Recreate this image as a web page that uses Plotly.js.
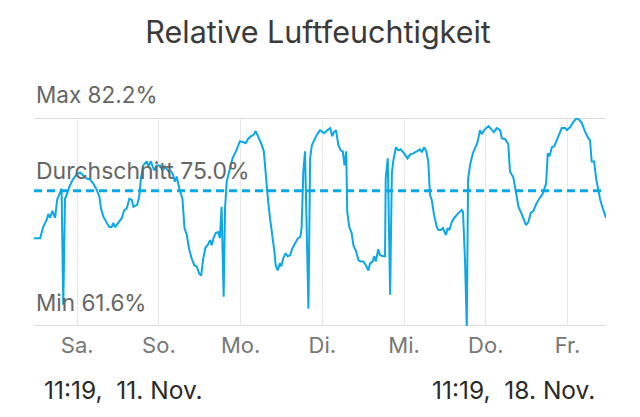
<!DOCTYPE html>
<html>
<head>
<meta charset="utf-8">
<script src="https://cdn.plot.ly/plotly-3.0.1.min.js"></script>
<style>html,body{margin:0;padding:0;background:#fff;}#chart{width:640px;height:417px;}</style>
</head>
<body>
<div id="chart"></div>
<script>
// Hours since start (11:19, 11. Nov.) and relative humidity (%)
const startTime = "2022-11-11 11:19";
const hours = [0.0,1.8,2.7,3.7,4.2,4.7,5.4,6.2,6.8,7.6,8.1,8.6,9.1,9.6,10.4,11.4,12.5,13.5,14.5,15.5,16.5,17.4,18.4,19.2,19.7,20.4,21.4,22.1,22.8,23.3,23.8,24.8,25.8,26.5,27.2,28.0,28.7,29.2,30.3,30.9,31.4,32.1,33.1,33.6,34.3,35.3,36.0,37.0,37.8,38.5,39.5,40.0,40.7,41.4,41.9,42.7,43.6,44.2,44.9,45.5,46.3,47.1,47.8,48.5,49.1,49.7,50.4,51.0,51.7,52.2,52.7,53.4,54.1,54.6,55.1,55.7,56.1,56.6,57.3,58.3,59.3,60.5,61.5,62.2,62.8,63.7,64.4,65.1,65.9,66.7,67.5,68.1,68.7,69.3,70.0,70.6,71.0,71.6,72.2,72.6,73.2,73.9,74.5,75.2,75.9,76.7,77.5,78.2,78.6,79.1,79.6,80.6,81.1,81.6,82.3,83.0,84.0,85.2,86.2,87.0,87.6,88.1,88.7,89.4,90.1,90.7,91.2,91.7,92.0,92.6,93.3,93.8,94.6,95.3,96.0,96.7,97.5,98.2,98.7,99.5,99.9,100.4,101.1,101.6,102.6,103.1,103.3,103.9,104.6,105.1,105.5,106.3,107.0,107.7,108.7,109.7,110.5,111.4,112.4,113.4,113.9,114.6,115.2,115.8,116.3,116.8,117.5,118.3,118.8,119.5,120.1,120.5,121.0,121.5,122.0,122.7,123.4,124.2,124.9,125.6,126.0,126.6,127.1,127.5,128.1,128.9,129.5,130.2,131.0,131.5,132.2,133.5,134.5,135.1,135.9,136.9,137.4,138.4,139.3,139.8,140.8,141.6,142.3,143.1,143.9,144.5,145.2,145.9,146.7,147.5,148.4,149.4,150.4,150.9,151.4,152.1,152.8,153.5,154.3,155.0,156.0,156.5,157.5,158.4,159.4,160.2,160.9,161.9,162.8,163.3,163.8,164.5,165.1,165.8,166.3,167.1,168.0];
const humidity = [70.3,70.3,71.4,72.1,72.7,72.3,73.0,72.3,74.1,74.7,75.2,63.7,74.2,74.6,75.4,76.1,76.6,76.8,76.5,76.2,76.1,75.7,75.1,74.4,73.2,72.4,71.8,71.4,71.4,71.8,71.4,71.9,72.3,73.1,73.2,74.2,74.1,73.4,73.6,74.4,76.2,77.5,77.9,77.4,77.9,77.0,77.5,77.5,77.0,77.4,76.9,77.0,76.7,75.9,76.4,75.2,74.2,71.3,70.6,69.3,68.3,67.6,67.5,66.8,66.6,68.3,69.4,69.6,70.1,69.6,70.3,70.8,70.9,70.3,73.4,64.5,73.2,75.9,76.9,78.2,78.9,79.9,79.8,79.7,80.1,80.4,80.5,80.9,80.3,79.7,78.9,76.2,74.2,72.3,70.6,69.0,67.6,67.1,67.8,67.5,68.3,68.8,68.5,68.6,69.3,69.8,70.3,70.4,71.3,76.9,78.9,63.3,78.2,79.5,80.0,80.5,81.0,80.7,81.0,81.2,80.4,80.8,81.0,79.5,79.0,78.9,77.5,78.9,72.9,71.4,70.8,69.6,69.0,68.1,68.0,68.0,67.6,67.1,67.8,68.0,68.5,68.0,69.2,68.6,68.5,68.5,76.2,78.2,64.7,76.7,77.9,79.3,79.0,79.1,78.7,78.2,78.6,78.7,78.9,79.1,78.8,79.3,78.9,77.9,74.6,74.1,72.6,71.4,71.1,71.1,71.3,70.9,70.6,71.3,71.1,71.9,72.3,72.6,72.9,73.1,72.9,68.0,61.6,76.2,77.6,78.7,79.2,79.7,81.0,80.6,81.0,81.4,81.0,80.8,81.2,81.0,80.2,80.1,79.6,76.9,76.3,74.9,73.4,72.8,72.1,71.6,71.9,72.8,73.0,73.7,74.2,74.7,75.7,78.7,78.4,79.3,79.4,80.0,80.8,81.2,81.2,81.0,81.3,81.8,82.2,82.0,81.7,80.8,80.2,80.0,77.9,77.9,76.2,74.9,74.1,73.2,72.3];
const dayTicks = ["2022-11-12","2022-11-13","2022-11-14","2022-11-15","2022-11-16","2022-11-17","2022-11-18"];
const dayLabels = ["Sa.","So.","Mo.","Di.","Mi.","Do.","Fr."];
const endTime = "2022-11-18 11:19";
const maxVal = 82.2, minVal = 61.6, avgVal = 75.0;
const startLabel = "11:19,\u00a0 11. Nov.";
const endLabel = "11:19,\u00a0 18. Nov.";

function pad(n){return String(n).padStart(2,"0");}
function toStr(ms){const d=new Date(ms);return d.getUTCFullYear()+"-"+pad(d.getUTCMonth()+1)+"-"+pad(d.getUTCDate())+" "+pad(d.getUTCHours())+":"+pad(d.getUTCMinutes())+":"+pad(d.getUTCSeconds());}
const t0 = Date.UTC(2022,10,11,11,19);
const xs = hours.map(h => toStr(t0 + h*3600000));

const blue = "#0aa8e6";
const font = "Inter, 'Open Sans', 'DejaVu Sans', sans-serif";

const data = [{
  x: xs, y: humidity, type: "scatter", mode: "lines",
  line: {color: blue, width: 2}, hoverinfo: "skip"
}];

const fmt = v => v.toFixed(1) + "%";

const layout = {
  width: 640, height: 417,
  margin: {l: 34, r: 34, t: 118, b: 91, pad: 0},
  paper_bgcolor: "#fff", plot_bgcolor: "#fff",
  showlegend: false,
  font: {family: font, color: "#777"},
  title: {text: "Relative Luftfeuchtigkeit", font: {family: font, size: 30.5, color: "#3a3a3a"},
          x: 0.497, xref: "container", y: 1 - 32/417, yref: "container", xanchor: "center", yanchor: "middle"},
  xaxis: {
    type: "date", range: [startTime, endTime], tickmode: "array",
    tickvals: dayTicks, ticktext: dayLabels,
    showgrid: true, gridcolor: "#e8e8e8", gridwidth: 1,
    zeroline: false, showline: false, ticks: "", ticklabelstandoff: 4,
    tickfont: {family: font, size: 22, color: "#777"}, fixedrange: true
  },
  yaxis: {
    range: [minVal, maxVal], showgrid: false, zeroline: false,
    showticklabels: false, ticks: "", fixedrange: true
  },
  shapes: [
    {type: "line", xref: "paper", x0: 0, x1: 1, yref: "y", y0: maxVal, y1: maxVal, line: {color: "#dcdcdc", width: 2}, layer: "below"},
    {type: "line", xref: "paper", x0: 0, x1: 1, yref: "y", y0: minVal, y1: minVal, line: {color: "#dcdcdc", width: 2}, layer: "below"},
    {type: "line", xref: "paper", x0: 0, x1: 1, yref: "y", y0: avgVal, y1: avgVal, line: {color: blue, width: 3, dash: "8px,5px"}, layer: "above"}
  ],
  annotations: [
    {text: "Max " + fmt(maxVal), xref: "paper", x: 0, xanchor: "left", yref: "y", y: maxVal, yanchor: "bottom", yshift: 8, showarrow: false, font: {family: font, size: 22.5, color: "#666"}},
    {text: "Durchschnitt " + fmt(avgVal), xref: "paper", x: 0, xanchor: "left", yref: "y", y: avgVal, yanchor: "bottom", yshift: 4, showarrow: false, font: {family: font, size: 23, color: "#666"}},
    {text: "Min " + fmt(minVal), xref: "paper", x: 0, xanchor: "left", yref: "y", y: minVal, yanchor: "bottom", yshift: 8, showarrow: false, font: {family: font, size: 22.5, color: "#666"}},
    {text: startLabel, xref: "paper", x: 0.0135, xanchor: "left", yref: "paper", y: -0.31, yanchor: "middle", showarrow: false, font: {family: font, size: 24.5, color: "#2a2a2a"}},
    {text: endLabel, xref: "paper", x: 0.985, xanchor: "right", yref: "paper", y: -0.31, yanchor: "middle", showarrow: false, font: {family: font, size: 24.5, color: "#2a2a2a"}}
  ]
};

Plotly.newPlot("chart", data, layout, {displayModeBar: false, staticPlot: true});
</script>
</body>
</html>
